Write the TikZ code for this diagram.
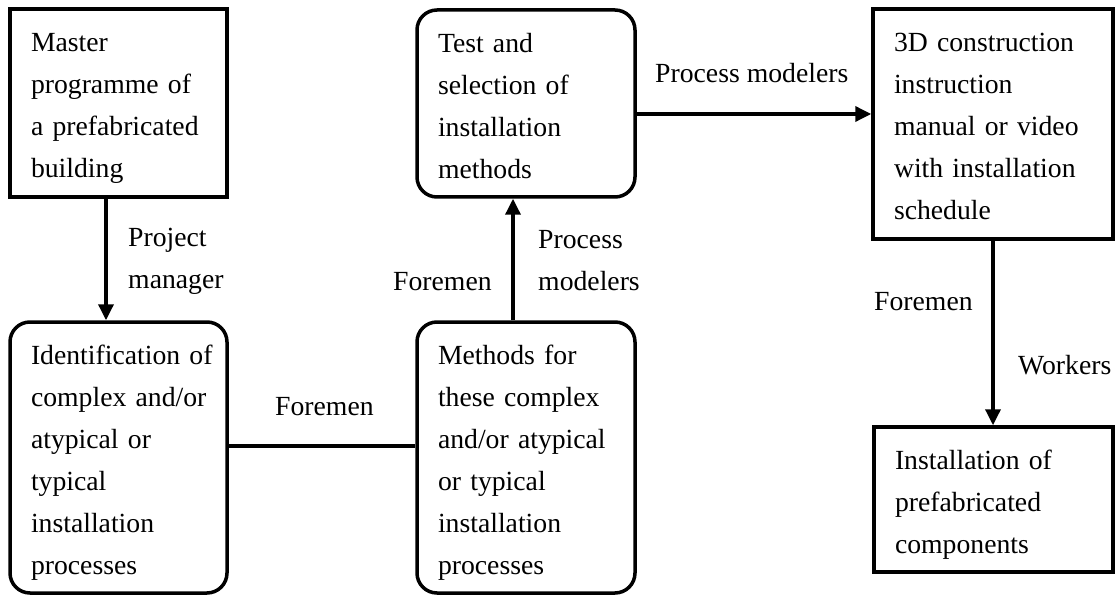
\documentclass[tikz,border=0pt]{standalone}
\usepackage{fontspec}
\setmainfont{Liberation Serif}
\usetikzlibrary{arrows.meta}
\newcommand\fstrut{\rule{0pt}{32pt}}
\newcommand\lstrut{\rule[-8pt]{0pt}{8pt}}
\begin{document}
\begin{tikzpicture}[x=1pt,y=-1pt,
  every node/.style={font=\fontsize{27.7}{42}\selectfont},
  box/.style={draw, line width=3.5pt, align=left, inner xsep=21pt, inner ysep=0pt},
  rbox/.style={box, rounded corners=20pt},
  conn/.style={line width=3.5pt},
  arr/.style={conn, -{Triangle[length=16pt,width=15pt]}},
  lbl/.style={inner sep=0pt, align=left, anchor=west}]
\useasboundingbox (0,0) rectangle (1117,596);
% boxes
\node[box, minimum width=217pt, minimum height=188pt, text width=175pt] (master) at (118.5,103)
  {\fstrut\mbox{Master}\\\mbox{programme of}\\\mbox{a prefabricated}\\\mbox{building}\lstrut};
\node[rbox, minimum width=217pt, minimum height=271pt, text width=175pt] (ident) at (118.5,457.5)
  {\fstrut\mbox{Identification of}\\\mbox{complex and/or}\\\mbox{atypical or}\\\mbox{typical}\\\mbox{installation}\\\mbox{processes}\lstrut};
\node[rbox, minimum width=218pt, minimum height=271pt, text width=176pt] (methods) at (526,457.5)
  {\fstrut\mbox{Methods for}\\\mbox{these complex}\\\mbox{and/or atypical}\\\mbox{or typical}\\\mbox{installation}\\\mbox{processes}\lstrut};
\node[rbox, minimum width=218pt, minimum height=187pt, text width=176pt] (test) at (526,103.5)
  {\fstrut\mbox{Test and}\\\mbox{selection of}\\\mbox{installation}\\\mbox{methods}\lstrut};
\node[box, minimum width=240pt, minimum height=230pt, text width=198pt] (d3) at (993,124)
  {\fstrut\mbox{3D construction}\\\mbox{instruction}\\\mbox{manual or video}\\\mbox{with installation}\\\mbox{schedule}\lstrut};
\node[box, minimum width=239pt, minimum height=145pt, text width=197pt] (install) at (993.5,499.5)
  {\fstrut\mbox{Installation of}\\\mbox{prefabricated}\\\mbox{components}\lstrut};
% connectors
\draw[arr] ([xshift=-12.5pt]master.south) -- ([xshift=-12.5pt]master.south |- ident.north);
\draw[conn] ([yshift=11.5pt]ident.east) -- ([yshift=11.5pt]ident.east -| methods.west);
\draw[arr] ([xshift=-13pt]methods.north) -- ([xshift=-13pt]methods.north |- test.south);
\draw[arr] ([yshift=-10.5pt]test.east) -- ([yshift=-10.5pt]test.east -| d3.west);
\draw[arr] (d3.south) -- (d3.south |- install.north);
% labels
\node[lbl] (l1) at (128,261) {Project\\manager};
\node[lbl] (l2) at (275,407) {Foremen};
\node[lbl] (l3) at (393,282) {Foremen};
\node[lbl] (l4) at (538,261) {Process\\modelers};
\node[lbl] (l5) at (655,73) {Process modelers};
\node[lbl] (l6) at (874,302) {Foremen};
\node[lbl] (l7) at (1018,365) {Workers};
\end{tikzpicture}
\end{document}
